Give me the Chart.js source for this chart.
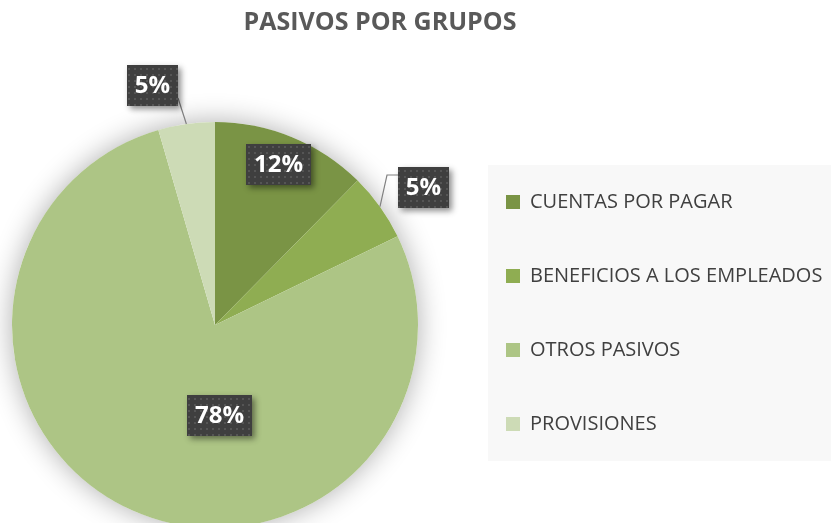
<!DOCTYPE html>
<html>
<head>
<meta charset="utf-8">
<script src="https://cdn.jsdelivr.net/npm/chart.js@4/dist/chart.umd.min.js"></script>
<style>
    html, body { margin: 0; padding: 0; background: #fff; overflow: hidden; }
    #wrap { width: 831px; height: 523px; position: relative; }
</style>
</head>
<body>
<div id="wrap"><canvas id="pasivosChart"></canvas></div>
<script>
    "use strict";

    var categories = ['CUENTAS POR PAGAR', 'BENEFICIOS A LOS EMPLEADOS', 'OTROS PASIVOS', 'PROVISIONES'];
    var shares = [12.4, 5.4, 77.7, 4.5];
    var sliceColors = ['#7a9445', '#8fad52', '#adc585', '#cddbb6'];
    // label spot per slice: [fraction along the slice angle, distance as part of radius]
    var labelSpots = [[0.48, 0.85], [0.62, 1.23], [0.405, 0.445], [0.1, 1.22]];

    var total = shares.reduce(function(a, b) { return a + b; }, 0);

    // small dotted tile for the dark label boxes
    function makeDots() {
        var tile = document.createElement('canvas');
        tile.width = 6; tile.height = 6;
        var t = tile.getContext('2d');
        t.fillStyle = '#3f3f3f';
        t.fillRect(0, 0, 6, 6);
        t.fillStyle = '#555555';
        t.fillRect(2, 2, 2, 2);
        return tile;
    }
    var dotTile = makeDots();

    /**
     * move the legend a bit off the pie and let it run to the right edge
     */
    var legendShift = {
        id: 'legendShift',
        afterLayout: function(chart) {
            var lg = chart.legend;
            if (!lg) { return; }
            lg.left = chart.chartArea.right + 22;
            lg.right = chart.width;
            lg.width = lg.right - lg.left;
        }
    };

    /**
     * grey panel behind the legend
     */
    var legendPanel = {
        id: 'legendPanel',
        beforeDraw: function(chart) {
            var lg = chart.legend, ctx = chart.ctx;
            if (!lg) { return; }
            ctx.save();
            ctx.fillStyle = '#f8f8f8';
            ctx.fillRect(lg.left + 36, lg.top + 27, chart.width - lg.left - 36, 296);
            ctx.restore();
        }
    };

    /**
     * soft halo round the pie
     */
    var pieShadow = {
        id: 'pieShadow',
        beforeDatasetsDraw: function(chart) {
            var arc = chart.getDatasetMeta(0).data[0];
            if (!arc) { return; }
            var p = arc.getProps(['x', 'y', 'outerRadius'], true);
            var ctx = chart.ctx;
            ctx.save();
            ctx.shadowColor = 'rgba(0,0,0,0.32)';
            ctx.shadowBlur = 28;
            ctx.fillStyle = '#ffffff';
            ctx.beginPath();
            ctx.arc(p.x, p.y, p.outerRadius, 0, Math.PI * 2);
            ctx.fill();
            ctx.restore();
        }
    };

    /**
     * percentage labels in dark boxes, with leader lines for the outside ones
     */
    var boxLabels = {
        id: 'boxLabels',
        afterDatasetsDraw: function(chart) {
            var ctx = chart.ctx;
            var meta = chart.getDatasetMeta(0);
            var pattern = ctx.createPattern(dotTile, 'repeat');

            meta.data.forEach(function(arc, i) {
                var p = arc.getProps(['x', 'y', 'startAngle', 'endAngle', 'outerRadius'], true);
                var spot = labelSpots[i];
                var a = p.startAngle + (p.endAngle - p.startAngle) * spot[0];
                var cx = p.x + Math.cos(a) * p.outerRadius * spot[1];
                var cy = p.y + Math.sin(a) * p.outerRadius * spot[1];
                var txt = Math.round(shares[i] / total * 100) + '%';

                ctx.save();
                ctx.font = 'bold 24px "Open Sans"';
                var w = Math.round(ctx.measureText(txt).width + 16), h = 41;
                var bx = Math.round(cx - w / 2), by = Math.round(cy - h / 2);

                if (spot[1] > 1) {
                    var mid = (p.startAngle + p.endAngle) / 2;
                    var ex = p.x + Math.cos(mid) * p.outerRadius;
                    var ey = p.y + Math.sin(mid) * p.outerRadius;
                    ctx.strokeStyle = '#808080';
                    ctx.lineWidth = 1.2;
                    ctx.beginPath();
                    ctx.moveTo(ex, ey);
                    if (cx > ex) {
                        // elbow, then flat into the left side of the box
                        ctx.lineTo(bx - 11, by + 8);
                        ctx.lineTo(bx, by + 8);
                    } else {
                        ctx.lineTo(bx + w, Math.min(Math.max(ey, by + 8), by + h - 8));
                    }
                    ctx.stroke();
                }

                ctx.shadowColor = 'rgba(0,0,0,0.45)';
                ctx.shadowBlur = 6;
                ctx.shadowOffsetX = 3;
                ctx.shadowOffsetY = 3;
                ctx.fillStyle = '#404040';
                ctx.fillRect(bx, by, w, h);
                ctx.shadowColor = 'transparent';
                ctx.fillStyle = pattern;
                ctx.fillRect(bx, by, w, h);

                ctx.fillStyle = '#ffffff';
                ctx.textAlign = 'center';
                ctx.textBaseline = 'middle';
                ctx.fillText(txt, bx + w / 2, by + h / 2 + 1);
                ctx.restore();
            });
        }
    };

    var ctx = document.getElementById('pasivosChart');
    var pasivosChart = new Chart(ctx, {
        type: 'pie',
        data: {
            labels: categories,
            datasets: [{
                data: shares,
                backgroundColor: sliceColors,
                borderWidth: 0,
                clip: false
            }]
        },
        options: {
            responsive: true,
            maintainAspectRatio: false,
            animation: false,
            events: [],
            radius: 203,
            layout: {
                padding: { left: 0, right: 71, top: 0, bottom: 11 }
            },
            plugins: {
                title: {
                    display: true,
                    text: 'PASIVOS POR GRUPOS',
                    color: '#595959',
                    font: { family: 'Open Sans', size: 25, weight: 'bold' },
                    padding: { top: 8, bottom: 100 }
                },
                legend: {
                    position: 'right',
                    align: 'start',
                    fullSize: false,
                    maxWidth: 330,
                    labels: {
                        boxWidth: 14,
                        boxHeight: 14,
                        padding: 54,
                        color: '#404040',
                        font: { family: 'Open Sans', size: 20 }
                    }
                },
                tooltip: { enabled: false }
            }
        },
        plugins: [legendShift, legendPanel, pieShadow, boxLabels]
    });
</script>
</body>
</html>
